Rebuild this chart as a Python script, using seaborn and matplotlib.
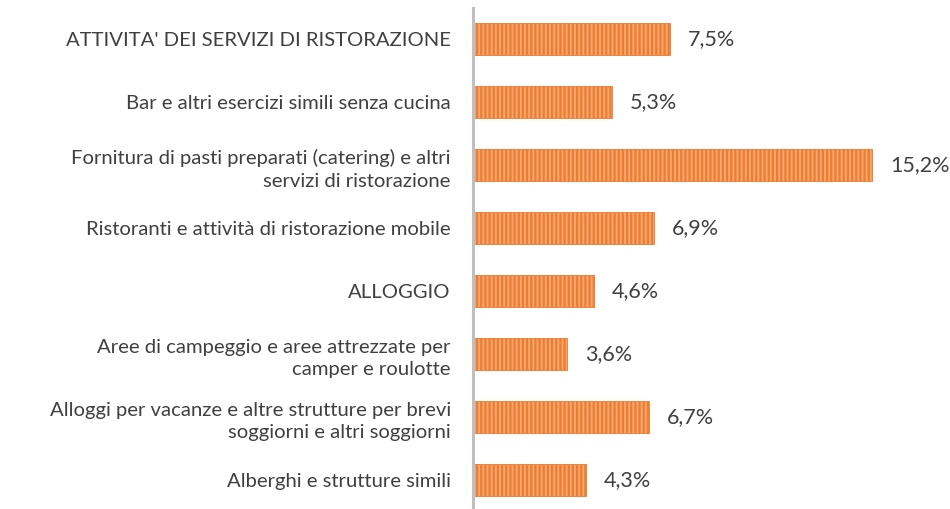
import matplotlib
matplotlib.use("Agg")
import matplotlib.pyplot as plt
import seaborn as sns
import pandas as pd

categories = [
    "ATTIVITA' DEI SERVIZI DI RISTORAZIONE",
    "Bar e altri esercizi simili senza cucina",
    "Fornitura di pasti preparati (catering) e altri\nservizi di ristorazione",
    "Ristoranti e attività di ristorazione mobile",
    "ALLOGGIO",
    "Aree di campeggio e aree attrezzate per\ncamper e roulotte",
    "Alloggi per vacanze e altre strutture per brevi\nsoggiorni e altri soggiorni",
    "Alberghi e strutture simili",
]
values = [7.5, 5.3, 15.2, 6.9, 4.6, 3.6, 6.7, 4.3]
value_labels = ["7,5%", "5,3%", "15,2%", "6,9%", "4,6%", "3,6%", "6,7%", "4,3%"]

sns.set_theme(style="white")
plt.rcParams['font.family'] = ['Lato', 'DejaVu Sans']
plt.rcParams['hatch.linewidth'] = 1.6

df = pd.DataFrame({"cat": categories, "val": values})

fig = plt.figure(figsize=(9.5, 5.09), dpi=100)
ax = fig.add_axes([473 / 950, -0.005, 0.482, 0.99])

sns.barplot(data=df, x="val", y="cat", orient="h", ax=ax,
            color="#F4A770", width=0.5, saturation=1)
for p in ax.patches:
    p.set_hatch("||||")
    p.set_edgecolor("#ED7D31")
    p.set_linewidth(0.6)

ax.bar_label(ax.containers[0], labels=value_labels, padding=13,
             fontsize=15.5, color="#404040")

ax.set_xlim(0, 17.45)
ax.set_ylim(7.5, -0.5)
ax.set_xlabel("")
ax.set_ylabel("")
ax.set_xticks([])
ax.tick_params(axis="y", length=0, pad=16, labelsize=14.6, labelcolor="#404040")
for lab in ax.get_yticklabels():
    lab.set_linespacing(1.4)

for s in ["top", "right", "bottom"]:
    ax.spines[s].set_visible(False)
ax.spines["left"].set_color("#BFBFBF")
ax.spines["left"].set_linewidth(2.2)

fig.savefig("out.png", dpi=100)
